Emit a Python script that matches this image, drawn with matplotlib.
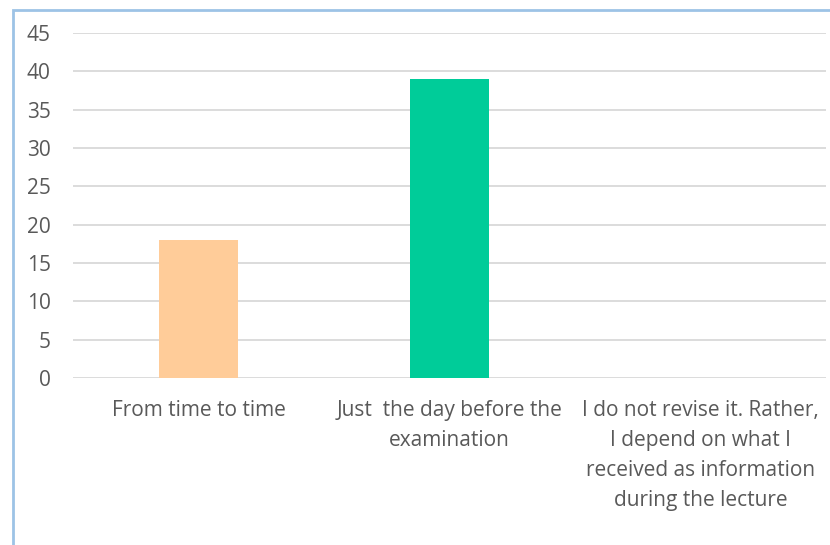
import matplotlib.pyplot as plt
from matplotlib.patches import Rectangle

# Revision habits survey: number of responses per option
categories = [
    'From time to time',
    'Just  the day before the\nexamination',
    'I do not revise it. Rather,\nI depend on what I\nreceived as information\nduring the lecture',
]
counts = [18, 39, 0]
bar_colors = ['#FFCC99', '#00CC99', '#5B9BD5']
y_ticks = [0, 5, 10, 15, 20, 25, 30, 35, 40, 45]

plt.rcParams['font.family'] = ['Open Sans', 'DejaVu Sans']

W, H = 830, 545
fig = plt.figure(figsize=(W / 100, H / 100), dpi=100)
ax = fig.add_axes([73 / W, 167 / H, (826 - 73) / W, (378 - 33) / H])

x = range(len(categories))
ax.bar(x, counts, width=0.315, color=bar_colors, zorder=3)

ax.set_ylim(0, 45)
ax.set_xlim(-0.5, len(categories) - 0.5)
ax.set_yticks(y_ticks)
ax.set_xticks(list(x))
ax.set_xticklabels(categories, linespacing=1.57)
ax.yaxis.grid(True, color='#D9D9D9', linewidth=1.3, zorder=0)
for side in ['top', 'right', 'left', 'bottom']:
    ax.spines[side].set_visible(False)
ax.tick_params(axis='both', length=0, labelsize=15, colors='#595959')
ax.tick_params(axis='y', pad=16)
ax.tick_params(axis='x', pad=15.5)

# chart area outline (left and top edges visible)
fig.patches.append(Rectangle((12.5 / W, -0.2), 2.0, 1.2 - 9.5 / H,
                             transform=fig.transFigure, fill=False,
                             edgecolor='#9DC3E6', linewidth=2.0))

fig.savefig('out.png', dpi=100)
